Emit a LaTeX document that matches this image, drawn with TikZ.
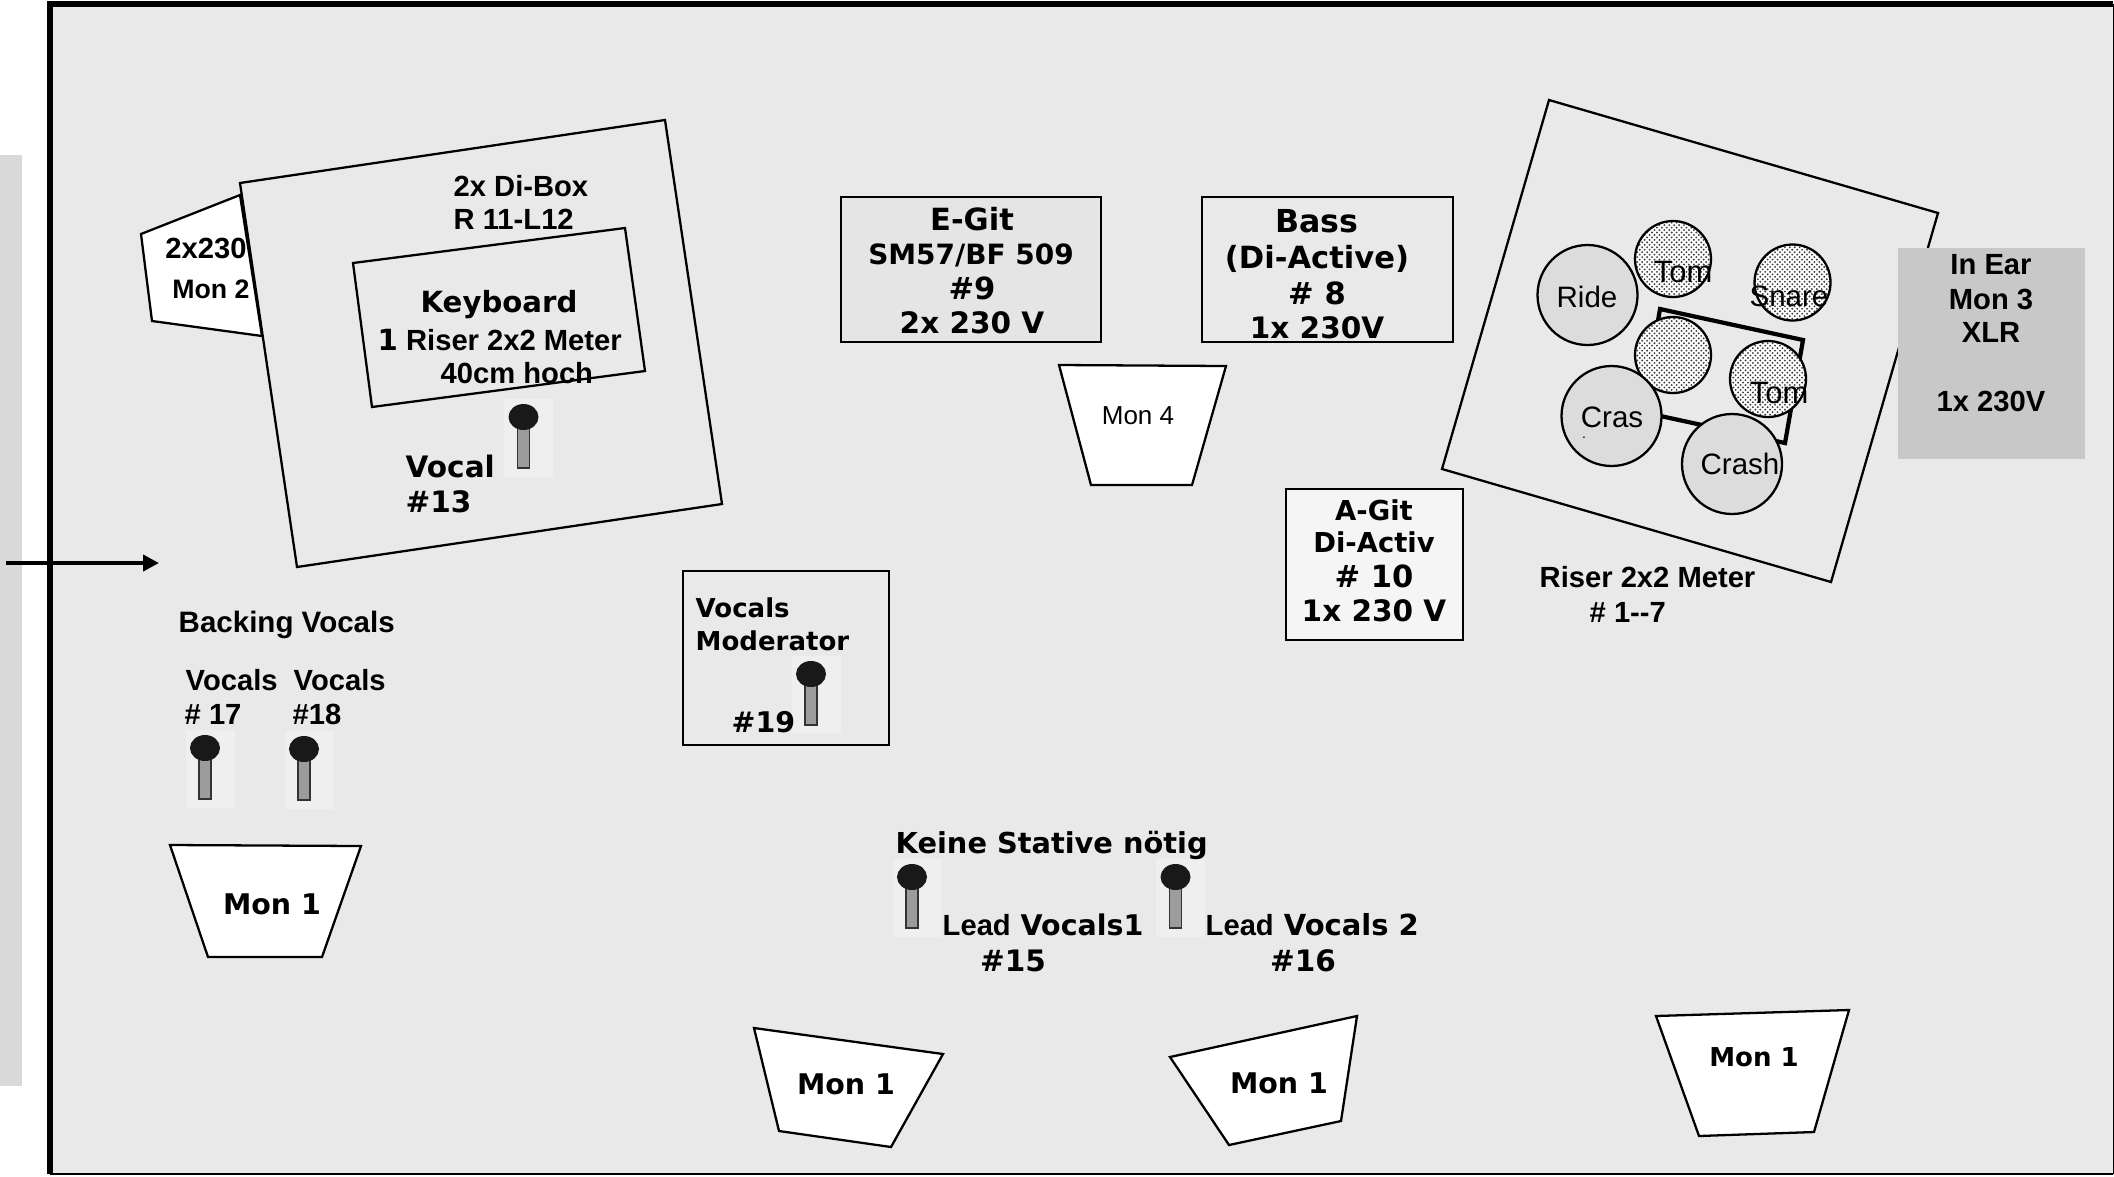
\documentclass[tikz,border=0pt]{standalone}
\usepackage{fontspec}
\setmainfont{Liberation Sans}
\newfontfamily\arialfont{Liberation Sans}
\newfontfamily\verdfont{DejaVu Sans}
\usetikzlibrary{arrows.meta,patterns}
\pgfdeclarepatternformonly{drumdots}{\pgfqpoint{-0.1pt}{-0.1pt}}{\pgfqpoint{1.5pt}{1.5pt}}{\pgfqpoint{1.4pt}{1.4pt}}{%
  \pgfpathcircle{\pgfqpoint{0.35pt}{0.35pt}}{0.3pt}%
  \pgfpathcircle{\pgfqpoint{1.05pt}{1.05pt}}{0.3pt}%
  \pgfusepath{fill}}
\definecolor{stagegray}{HTML}{E9E9E9}
\definecolor{stripgray}{HTML}{D9D9D9}
\definecolor{earbox}{HTML}{C8C8C8}
\definecolor{drumgray}{HTML}{DCDCDC}
\definecolor{micpatch}{HTML}{EFEFEF}
\definecolor{micgray}{HTML}{9C9C9C}
\tikzset{
  outline/.style={draw=black,line width=0.65pt,line join=miter},
  monitor/.style={outline,fill=white},
  smalldrum/.style={draw=black,line width=0.65pt,preaction={fill=white},pattern=drumdots,pattern color=black!75},
  bigdrum/.style={draw=black,line width=0.65pt,fill=drumgray},
  arialb/.style={inner sep=0pt,font=\fontsize{8.3}{10}\selectfont\bfseries},
  arialr/.style={inner sep=0pt,font=\fontsize{8.4}{10}\selectfont},
  verdb/.style={inner sep=0pt,font=\fontsize{8.1}{10}\selectfont\verdfont\bfseries},
  verdmid/.style={inner sep=0pt,font=\fontsize{8.4}{10}\selectfont\verdfont\bfseries},
  verdbig/.style={inner sep=0pt,font=\fontsize{8.7}{10}\selectfont\verdfont\bfseries},
}
\begin{document}
\begin{tikzpicture}[x=0.1mm,y=-0.1mm]
  \useasboundingbox (0,0) rectangle (2114,1176);

  % stage and strip
  \fill[stripgray] (0,155) rectangle (22,1086);
  \fill[stagegray] (50,4) rectangle (2113,1174);
  \draw[line width=0.8pt] (50,1174) -- (2113,1174);
  \draw[line width=0.3pt] (2113,1174) -- (2113,4);
  \draw[line width=1.6pt] (2113,4) -- (50,4) -- (50,1174);

  % entrance arrow
  \coordinate (arrowstart) at (6,563);
  \coordinate (arrowend) at (159,563);
  \draw[line width=1.2pt,-{Triangle[length=4.5pt,width=4.5pt]}] (arrowstart) -- (arrowend);

  % keyboard riser
  \draw[monitor] (240,195) -- (141,234) -- (152,321) -- (262,336) -- cycle;
  \draw[outline,fill=stagegray] (240,183) -- (665,120) -- (722,504) -- (297,567) -- cycle;
  \draw[outline] (353,263) -- (625,228) -- (645,371) -- (372,407) -- cycle;
  \node[arialb] (montwovolt) at (206,248) {2x230};
  \node[arialb,font=\fontsize{7.6}{10}\selectfont\bfseries] (montwo) at (211,289) {Mon 2};
  \node[arialb,anchor=west] (dibox) at (453,186) {2x Di-Box};
  \node[arialb,anchor=west] (dirl) at (453,219) {R 11-L12};
  \node[verdb,font=\fontsize{8.3}{10}\selectfont\verdfont\bfseries] (keyboard) at (499,305) {Keyboard};
  \node[arialb,anchor=west] (keyriser) at (377,340) {{\verdfont 1} Riser 2x2 Meter};
  \node[arialb,anchor=west] (keyhigh) at (440,373) {40cm hoch};

  % guitar and bass boxes
  \draw[outline,fill=black!10] (841,197) rectangle (1101,342);
  \node[verdbig] (egit) at (972,219) {E-Git};
  \node[verdb,font=\fontsize{7.95}{10}\selectfont\verdfont\bfseries] (egitmic) at (971,255) {SM57/BF 509};
  \node[verdbig] (egitnum) at (972,288) {\#9};
  \node[verdmid] (egitvolt) at (972,323) {2x 230 V};
  \draw[outline] (1202,197) rectangle (1453,342);
  \node[verdbig,font=\fontsize{9}{10}\selectfont\verdfont\bfseries] (bass) at (1317,221) {Bass};
  \node[verdbig] (bassdi) at (1317,259) {(Di-Active)};
  \node[verdbig] (bassnum) at (1317,293) {\# 8};
  \node[verdmid] (bassvolt) at (1317,328) {1x 230V};
  \draw[monitor] (1059,365) -- (1226,366) -- (1192,485) -- (1091,485) -- cycle;
  \node[arialr,font=\fontsize{7.4}{10}\selectfont] (monfour) at (1138,416) {Mon 4};
  \draw[outline,fill=black!4] (1286,489) rectangle (1463,640);
  \node[verdb,font=\fontsize{7.8}{10}\selectfont\verdfont\bfseries] (agit) at (1374,510) {A-Git};
  \node[verdb,font=\fontsize{7.8}{10}\selectfont\verdfont\bfseries] (agitdi) at (1374,542) {Di-Activ};
  \node[verdbig] (agitnum) at (1374,576) {\# 10};
  \node[verdmid] (agitvolt) at (1374,611) {1x 230 V};

  % drum riser
  \draw[outline] (1549,100) -- (1938,213) -- (1831,582) -- (1442,469) -- cycle;
  \draw[line width=1.2pt] (1660,309) -- (1803,340) -- (1785,443) -- (1642,412) -- cycle;
  \draw[smalldrum] (1673,259) circle [radius=38];
  \draw[smalldrum] (1792.5,282.5) circle [radius=38];
  \draw[smalldrum] (1673,355) circle [radius=38];
  \draw[smalldrum] (1768,379) circle [radius=38];
  \draw[bigdrum] (1587.5,295) circle [radius=50];
  \draw[bigdrum] (1611.5,416) circle [radius=50];
  \draw[bigdrum] (1732,464) circle [radius=50];
  \node[arialr] (ride) at (1587,297) {Ride};
  \node[arialr,font=\fontsize{8.8}{10}\selectfont] (tomone) at (1683,272) {Tom};
  \node[arialr] (snare) at (1789,296) {Snare};
  \node[arialr,font=\fontsize{8.8}{10}\selectfont] (tomtwo) at (1779,393) {Tom};
  \node[arialr] (cras) at (1612,417) {Cras};
  \node[arialr] (crash) at (1740,464) {Crash};
  \node[arialr,font=\fontsize{4}{5}\selectfont] (crasdot) at (1584,438) {.};
  \node[arialb,anchor=west] (drumriser) at (1539,577) {Riser 2x2 Meter};
  \node[arialb,anchor=west] (drumnum) at (1589,612) {\# 1-{}-7};
  \fill[earbox] (1898,248) rectangle (2085,459);
  \node[arialb] (inear) at (1991,265) {In Ear};
  \node[arialb] (monthree) at (1991,299) {Mon 3};
  \node[arialb] (xlr) at (1991,332) {XLR};
  \node[arialb] (earvolt) at (1991,401) {1x 230V};

  % moderator box
  \draw[outline] (683,571) rectangle (889,745);

  % microphones
  \foreach \hx/\hy in {523.5/417,205/748,304/749,811/674,912/877,1175.5/877}{
    \begin{scope}[shift={(\hx,\hy)}]
      \fill[micpatch] (-19.5,-18) rectangle (29.5,60);
      \filldraw[fill=micgray,draw=black!80,line width=0.4pt] (-6,10) rectangle (6,51);
      \fill[black!90] (0,0) ellipse [x radius=15,y radius=13];
    \end{scope}
  }

  % texts beside the microphones
  \node[verdmid,anchor=west] (keyvocal) at (405,466) {Vocal};
  \node[verdmid,anchor=west] (keynum) at (405,502) {\#13};
  \node[verdb,font=\fontsize{7.4}{10}\selectfont\verdfont\bfseries,anchor=west] (modvocals) at (695,608) {Vocals};
  \node[verdb,font=\fontsize{7.4}{10}\selectfont\verdfont\bfseries,anchor=west] (moderator) at (695,641) {Moderator};
  \node[verdb,anchor=west] (modnum) at (731,722) {\#19};

  % backing vocals
  \node[arialb,font=\fontsize{8.4}{10}\selectfont\bfseries,anchor=west] (backing) at (178,625) {Backing Vocals};
  \node[arialb,anchor=west] (backone) at (185,680) {Vocals};
  \node[arialb,anchor=west] (backtwo) at (293,680) {Vocals};
  \node[arialb,anchor=west] (backonenum) at (184,714) {\# 17};
  \node[arialb,anchor=west] (backtwonum) at (292,714) {\#18};

  % lead vocals
  \node[verdb,font=\fontsize{8.2}{10}\selectfont\verdfont\bfseries,anchor=west] (nostands) at (895,845) {Keine Stative nötig};
  \node[verdb,anchor=west] (leadone) at (942,925) {{\arialfont\fontsize{8.3}{10}\selectfont Lead} Vocals1};
  \node[verdb,font=\fontsize{8.25}{10}\selectfont\verdfont\bfseries,anchor=west] (leadtwo) at (1205,925) {{\arialfont\fontsize{8.3}{10}\selectfont Lead} Vocals 2};
  \node[verdmid] (leadonenum) at (1013,961) {\#15};
  \node[verdmid] (leadtwonum) at (1303,961) {\#16};

  % floor monitors
  \draw[monitor] (170,845) -- (361,846) -- (322,957) -- (208,957) -- cycle;
  \node[verdb] (monleft) at (272,904) {Mon 1};
  \draw[monitor] (754,1028) -- (943,1054) -- (891,1147) -- (779,1131) -- cycle;
  \node[verdb] (moncentre) at (846,1084) {Mon 1};
  \draw[monitor] (1170,1057) -- (1357,1016) -- (1341,1121) -- (1229,1145) -- cycle;
  \node[verdb] (moninner) at (1279,1083) {Mon 1};
  \draw[monitor] (1656,1016) -- (1849,1010) -- (1814,1132) -- (1699,1136) -- cycle;
  \node[verdb,font=\fontsize{7.4}{10}\selectfont\verdfont\bfseries] (monright) at (1754,1057) {Mon 1};
\end{tikzpicture}
\end{document}
